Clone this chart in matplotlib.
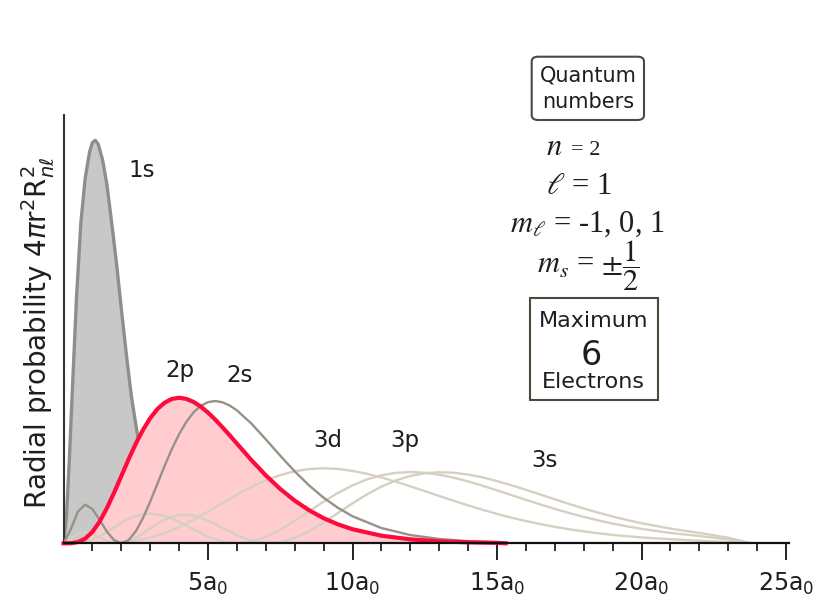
import matplotlib
matplotlib.use('Agg')
import matplotlib.pyplot as plt
from matplotlib.patches import Rectangle, FancyBboxPatch

# values (radial probability, 1/a0)
r_1s = [0, 0.1, 0.2, 0.3, 0.45, 0.6, 0.75, 0.9, 1.0, 1.1, 1.2, 1.35, 1.5, 1.7, 1.85,
        2.0, 2.2, 2.35, 2.55, 2.75, 3.0, 3.5, 4.0, 4.5, 5.0]
p_1s = [0, 0.035, 0.11, 0.2, 0.33, 0.43, 0.49, 0.525, 0.538, 0.541, 0.536, 0.515, 0.482, 0.42, 0.37,
        0.315, 0.245, 0.197, 0.148, 0.11, 0.08, 0.04, 0.02, 0.009, 0.004]

r_2 = [0, 0.25, 0.5, 0.75, 1, 1.25, 1.5, 1.75, 2, 2.25, 2.5, 2.75, 3, 3.25, 3.5, 3.75, 4,
       4.25, 4.5, 4.75, 5, 5.25, 5.5, 5.75, 6, 6.5, 7, 7.5, 8, 8.5, 9, 9.5, 10, 11, 12, 13, 14, 15, 15.3]
p_2s = [0, 0.0186, 0.0427, 0.0519, 0.046, 0.0315, 0.0157, 0.0042, 0, 0.0042, 0.016, 0.034, 0.056,
        0.08, 0.104, 0.1266, 0.1465, 0.163, 0.1758, 0.1845, 0.1895, 0.191, 0.1893, 0.185, 0.1785,
        0.1608, 0.1396, 0.1176, 0.0966, 0.0776, 0.0612, 0.0475, 0.0363, 0.0205, 0.0111, 0.0058,
        0.0029, 0.0015, 0]
p_2p = [0, 0.0001, 0.0016, 0.0062, 0.0153, 0.0291, 0.0471, 0.0679, 0.0902, 0.1126, 0.1336, 0.1523,
        0.168, 0.1803, 0.1888, 0.1938, 0.1954, 0.1939, 0.1898, 0.1835, 0.1755, 0.1661, 0.1558,
        0.145, 0.1339, 0.1118, 0.0912, 0.0729, 0.0573, 0.0443, 0.0337, 0.0254, 0.0189, 0.0102,
        0.0053, 0.0027, 0.0013, 0.0006, 0]

r_3 = [0, 0.25, 0.5, 0.75, 1, 1.25, 1.5, 1.75, 2, 2.25, 2.5, 3, 3.5, 4, 4.5, 5, 5.5, 6, 6.5, 7,
       7.5, 8, 8.5, 9, 9.5, 10, 10.5, 11, 11.5, 12, 12.5, 13, 13.5, 14, 14.5, 15, 15.5, 16, 16.5,
       17, 17.5, 18, 18.5, 19, 19.5, 20, 21, 22, 23, 23.8]
p_3s = [0, 0.0055, 0.0125, 0.0148, 0.0126, 0.008, 0.0034, 0.0005, 0.0002, 0.0026, 0.0073, 0.0201,
        0.0319, 0.0382, 0.0373, 0.0306, 0.0208, 0.0109, 0.0034, 0.0001, 0.0015, 0.0071, 0.0163,
        0.028, 0.0408, 0.0537, 0.0657, 0.0761, 0.0845, 0.0904, 0.0941, 0.0954, 0.0948, 0.0923,
        0.0885, 0.0836, 0.0779, 0.0718, 0.0655, 0.0591, 0.0528, 0.0468, 0.0412, 0.036, 0.0313,
        0.027, 0.0197, 0.014, 0.0075, 0]
p_3p = [0, 0, 0.0006, 0.0022, 0.0052, 0.0097, 0.0153, 0.0214, 0.0274, 0.0327, 0.0367, 0.0401,
        0.037, 0.0289, 0.0187, 0.0091, 0.0024, 0, 0.0022, 0.0086, 0.0183, 0.0302, 0.0431, 0.0559,
        0.0677, 0.0778, 0.0858, 0.0914, 0.0946, 0.0957, 0.0947, 0.0921, 0.0881, 0.0831, 0.0773,
        0.0711, 0.0647, 0.0584, 0.0521, 0.0462, 0.0406, 0.0355, 0.0308, 0.0265, 0.0228, 0.0194,
        0.0139, 0.0098, 0.0052, 0]
p_3d = [0, 0, 0, 0, 0, 0.0001, 0.0003, 0.0007, 0.0013, 0.0022, 0.0035, 0.0075, 0.0136, 0.0217,
        0.0316, 0.0426, 0.0541, 0.0653, 0.0756, 0.0845, 0.0916, 0.0967, 0.0997, 0.1007, 0.0998,
        0.0972, 0.0934, 0.0884, 0.0827, 0.0765, 0.0701, 0.0635, 0.0571, 0.0509, 0.045, 0.0395,
        0.0344, 0.0299, 0.0258, 0.0221, 0.0188, 0.016, 0.0135, 0.0113, 0.0095, 0.0079, 0.0055,
        0.0035, 0.0016, 0]

major_ticks = [5, 10, 15, 20, 25]
tick_labels = [r'5a$_0$', r'10a$_0$', r'15a$_0$', r'20a$_0$', r'25a$_0$']

W, H = 821, 598
TXT = '#1e1e1e'


def fx(px):
    return px / W


def fy(py):
    return 1 - py / H


fig = plt.figure(figsize=(W / 100, H / 100), dpi=100)
ax = fig.add_axes([fx(63.5), fy(543.3), 725.4 / W, 428.3 / H])
ax.set_xlim(0, 25.1)
ax.set_ylim(0, 0.575)

# fills first, then the outlines on top
ax.fill_between(r_1s, p_1s, color='#c8c8c8', lw=0, zorder=1)
ax.plot(r_1s, p_1s, color='#8e8e8e', lw=2.4, zorder=2, solid_joinstyle='round')
ax.fill_between(r_2, p_2p, color='#ffcdd0', lw=0, zorder=3)
for p in (p_3d, p_3p, p_3s):
    ax.plot(r_3, p, color='#d6d0c3', lw=1.7, zorder=4)
ax.plot(r_2, p_2s, color='#979187', lw=1.7, zorder=5)
ax.plot(r_2, p_2p, color='#ff0a3c', lw=3, zorder=6, clip_on=False)

for s in ['top', 'right']:
    ax.spines[s].set_visible(False)
ax.spines['left'].set_linewidth(1.5)
ax.spines['left'].set_color('#333333')
ax.spines['bottom'].set_linewidth(1.6)
ax.spines['bottom'].set_color('#111111')
ax.spines['bottom'].set_zorder(7)

ax.set_yticks([])
ax.set_xticks(major_ticks)
ax.set_xticklabels(tick_labels)
ax.set_xticks([i for i in range(1, 25) if i % 5], minor=True)
ax.tick_params(axis='x', which='major', length=12, width=1.4, pad=8,
               labelsize=17, labelcolor=TXT, color='#222222')
ax.tick_params(axis='x', which='minor', length=6, width=1.4, color='#333333')

# y label
fig.text(fx(38), fy(333), r'Radial probability 4$\pi$r$^2$R$^2_{n\ell}$', rotation=90,
         ha='center', va='center', fontsize=20, color=TXT)

# orbital labels
for name, px, py in [('1s', 141.7, 176.7), ('2p', 180, 377.5), ('2s', 240, 381.5),
                     ('3d', 328, 447), ('3p', 404.5, 446.7), ('3s', 544, 466.7)]:
    fig.text(fx(px), fy(py), name, ha='center', va='baseline', fontsize=16.5, color=TXT)

# quantum numbers box
fig.add_artist(FancyBboxPatch((fx(531.7), fy(120)), (644 - 531.7) / W, (120 - 56.7) / H,
                              boxstyle='round,pad=0,rounding_size=0.008',
                              transform=fig.transFigure, fc='none', ec='#4d473d', lw=1.5))
fig.text(fx(588), fy(81), 'Quantum', ha='center', va='baseline', fontsize=15, color=TXT)
fig.text(fx(588), fy(108), 'numbers', ha='center', va='baseline', fontsize=15, color=TXT)

fig.text(fx(562), fy(155), r'$n$', ha='right', va='baseline', fontsize=22,
         math_fontfamily='stix', color=TXT)
fig.text(fx(571), fy(155), '= 2', ha='left', va='baseline', fontsize=16,
         family='Liberation Serif', color=TXT)
fig.text(fx(579), fy(194), r'$\ell$ = 1', ha='center', va='baseline', fontsize=22,
         family='Liberation Serif', math_fontfamily='stix', color=TXT)
fig.text(fx(587.5), fy(232), r'$m_\ell$ = -1, 0, 1', ha='center', va='baseline', fontsize=22,
         family='Liberation Serif', math_fontfamily='stix', color=TXT)
fig.text(fx(588.5), fy(273), r'$m_s$ = $\pm\dfrac{1}{2}$', ha='center', va='baseline',
         fontsize=22, family='Liberation Serif', math_fontfamily='stix', color=TXT)

# maximum electrons box
fig.add_artist(Rectangle((fx(530), fy(400)), (658 - 530) / W, (400 - 298) / H,
                         transform=fig.transFigure, fc='none', ec='#4d473d', lw=1.5))
fig.text(fx(594), fy(327), 'Maximum', ha='center', va='baseline', fontsize=16, color=TXT)
fig.text(fx(591), fy(365), '6', ha='center', va='baseline', fontsize=24, color=TXT)
fig.text(fx(593), fy(388), 'Electrons', ha='center', va='baseline', fontsize=16, color=TXT)

fig.savefig('out.png', dpi=100)
